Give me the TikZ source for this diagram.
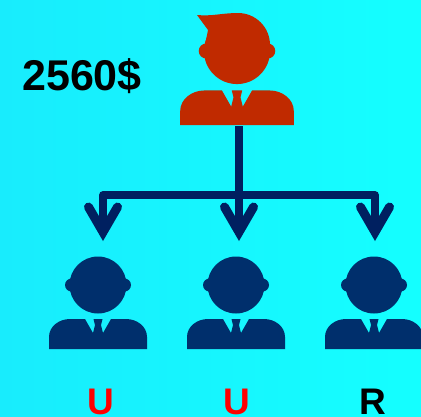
\documentclass[tikz,border=0pt]{standalone}
\usepackage{fontspec}
\setmainfont{Liberation Sans}
\usetikzlibrary{arrows.meta}
\definecolor{bgleft}{RGB}{24,236,253}
\definecolor{bgright}{RGB}{20,255,255}
\definecolor{bossred}{RGB}{192,42,0}
\definecolor{staffblue}{RGB}{0,47,108}
\definecolor{linkblue}{RGB}{0,32,96}
\tikzset{
  person/.pic={
    \fill[pic actions] (0,0) circle (28.5);
    \fill[pic actions] (-26.5,0) circle (6.5) (26.5,0) circle (6.5);
    \fill[pic actions] (-49,64) -- (-49,52) to[out=90,in=180] (-28,34) -- (-13,34)
      -- (-5,48) -- (-3,40) -- (-4.5,34) -- (4.5,34) -- (3,40) -- (5,48)
      -- (13,34) -- (28,34) to[out=0,in=90] (49,52) -- (49,64) -- cycle;
  },
  link/.style={draw=linkblue,line width=7.5pt,line join=round},
  arrowlink/.style={link,line cap=round,-{Straight Barb[length=25pt,width=29pt,line width=9pt,line cap=round,line join=miter]}},
  caption/.style={font=\bfseries\fontsize{37}{37}\selectfont,anchor=base,inner sep=0pt},
}
\begin{document}
\begin{tikzpicture}[x=1pt,y=-1pt]
\useasboundingbox (0,0) rectangle (421,416);
\clip (0,0) rectangle (421,416);
\shade[left color=bgleft,right color=bgright] (0,0) rectangle (421,416);
% boss
\pic[bossred,scale=1.16] at (237,51) {person};
\fill[bossred] (197,15) to[out=-5,in=180] (238,13) to[out=0,in=90] (270,45)
  -- (205,45) -- (208,30) -- cycle;
% staff
\pic[staffblue] at (98,285) {person};
\pic[staffblue] at (236,285) {person};
\pic[staffblue] at (374,285) {person};
% links
\coordinate (top) at (239,126);
\coordinate (midA) at (103,195);
\coordinate (midB) at (239,195);
\coordinate (midC) at (375,195);
\coordinate (tipA) at (103,241);
\coordinate (tipB) at (239,241);
\coordinate (tipC) at (375,241);
\draw[link] (top)--(midB);
\draw[arrowlink] (midB)--(midA)--(tipA);
\draw[arrowlink] (midB)--(tipB);
\draw[arrowlink] (midB)--(midC)--(tipC);
% labels
\node[font=\bfseries\fontsize{43}{43}\selectfont,anchor=base west,inner sep=0pt] (money) at (22,90) {2560\$};
\node[caption,text=red] (labA) at (101,414) {U};
\node[caption,text=red] (labB) at (237,414) {U};
\node[caption,text=black] (labC) at (373,414) {R};
\end{tikzpicture}
\end{document}
